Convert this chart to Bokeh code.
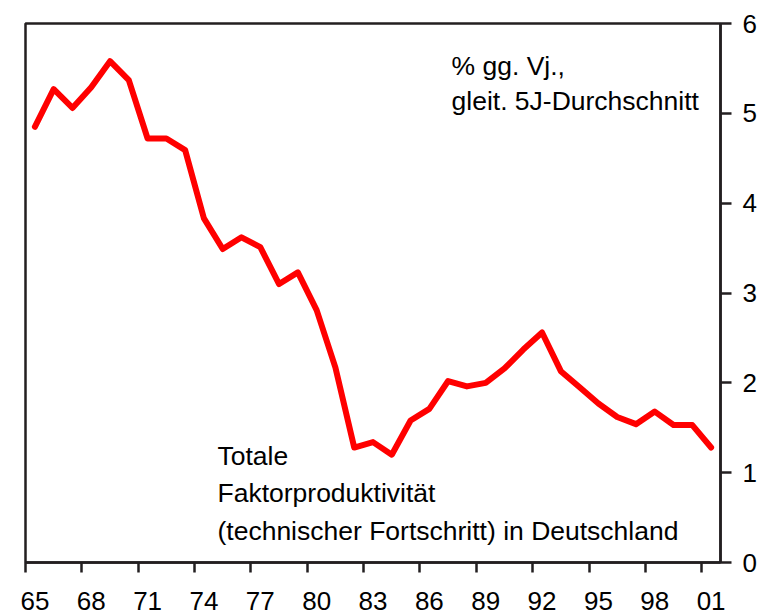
from bokeh.plotting import figure
from bokeh.models import Range1d, FixedTicker
from bokeh.core.properties import value
from bokeh.embed import file_html
from bokeh.resources import INLINE

years = list(range(1965, 2002))
tfp = [4.85, 5.27, 5.06, 5.29, 5.58, 5.37, 4.72, 4.72, 4.59, 3.83,
       3.49, 3.62, 3.51, 3.10, 3.23, 2.81, 2.17, 1.28, 1.34, 1.20,
       1.58, 1.71, 2.02, 1.96, 2.00, 2.16, 2.37, 2.56, 2.13, 1.95,
       1.77, 1.62, 1.54, 1.68, 1.53, 1.53, 1.28]
tick_years = list(range(1965, 2002, 3))
tick_labels = ["65", "68", "71", "74", "77", "80", "83", "86", "89", "92", "95", "98", "01"]
y_ticks = [0, 1, 2, 3, 4, 5, 6]

FONT = "Liberation Sans"
DARK = "#231f20"

p = figure(width=768, height=616, output_backend="svg", toolbar_location=None,
           x_range=Range1d(1965, 2002), y_range=Range1d(0, 6),
           y_axis_location="right",
           min_border_left=25, min_border_top=23, min_border_right=48, min_border_bottom=54)
p.grid.visible = False
p.outline_line_color = DARK
p.outline_line_width = 2.5
p.background_fill_color = "white"
p.border_fill_color = "white"

# centre of each yearly category
xc = [y + 0.5 for y in years]
p.line(x=xc, y=tfp, line_color="#ff0000", line_width=6, line_join="round", line_cap="round")

xa = p.xaxis[0]
xa.ticker = FixedTicker(ticks=[y + 0.5 for y in tick_years], minor_ticks=tick_years)
xa.major_label_overrides = {y + 0.5: lab for y, lab in zip(tick_years, tick_labels)}
xa.major_tick_out = 0
xa.major_tick_in = 0
xa.minor_tick_out = 10
xa.minor_tick_in = 0
xa.minor_tick_line_width = 2.5
xa.minor_tick_line_color = DARK
xa.axis_line_width = 2.5
xa.axis_line_color = DARK
xa.major_label_text_font = FONT
xa.major_label_text_font_size = "26px"
xa.major_label_text_color = "black"
xa.major_label_standoff = 19

ya = p.yaxis[0]
ya.ticker = FixedTicker(ticks=y_ticks, minor_ticks=[])
ya.major_tick_out = 11
ya.major_tick_in = 0
ya.major_tick_line_width = 2.5
ya.major_tick_line_color = DARK
ya.axis_line_width = 2.5
ya.axis_line_color = DARK
ya.major_label_text_font = FONT
ya.major_label_text_font_size = "26px"
ya.major_label_text_color = "black"
ya.major_label_standoff = 11

note_top_x = [1987.68, 1987.68]
note_top_y = [5.53, 5.14]
note_top = ["% gg. Vj.,", "gleit. 5J-Durchschnitt"]
p.text(x=note_top_x, y=note_top_y, text=note_top, text_font=value(FONT),
       text_font_size="26.5px", text_baseline="alphabetic", text_align="left", text_color="black")

note_bot_x = [1975.22, 1975.22, 1975.22]
note_bot_y = [1.19, 0.77, 0.356]
note_bot = ["Totale", "Faktorproduktivität", "(technischer Fortschritt) in Deutschland"]
p.text(x=note_bot_x, y=note_bot_y, text=note_bot, text_font=value(FONT),
       text_font_size="26.5px", text_baseline="alphabetic", text_align="left", text_color="black")

open("out.html", "w").write(file_html(p, INLINE))
